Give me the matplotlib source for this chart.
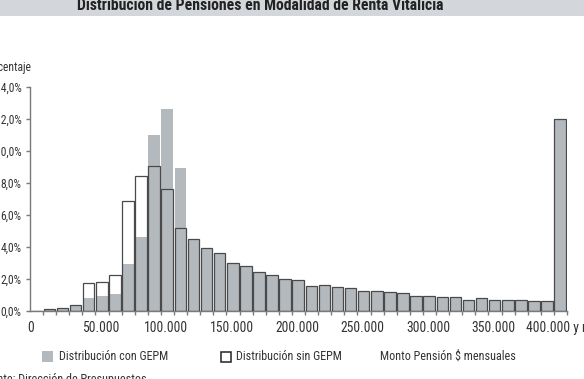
import matplotlib
matplotlib.use("Agg")
import matplotlib.pyplot as plt
import matplotlib.font_manager as fm
from matplotlib.patches import Rectangle
import numpy as np

# ---- data (percent of pensions per 10.000 bin) ----
bin_start = list(range(0, 410000, 10000))  # 0 ... 400.000 y más
con_gepm = [0.0, 0.10, 0.13, 0.35, 0.77, 0.90, 1.05, 2.88, 4.57, 11.00, 12.60, 8.93,
            4.45, 3.89, 3.60, 2.94, 2.78, 2.39, 2.24, 1.97, 1.90, 1.55, 1.59, 1.45,
            1.39, 1.24, 1.22, 1.14, 1.07, 0.91, 0.91, 0.87, 0.82, 0.68, 0.76, 0.68,
            0.68, 0.64, 0.60, 0.60, 11.97]
sin_gepm = [0.0, 0.10, 0.13, 0.35, 1.72, 1.78, 2.20, 6.84, 8.38, 9.05, 7.60, 5.13,
            4.45, 3.89, 3.60, 2.94, 2.78, 2.39, 2.24, 1.97, 1.90, 1.55, 1.59, 1.45,
            1.39, 1.24, 1.22, 1.14, 1.07, 0.91, 0.91, 0.87, 0.82, 0.68, 0.76, 0.68,
            0.68, 0.64, 0.60, 0.60, 11.97]
x_tick_labels = ['0', '50.000', '100.000', '150.000', '200.000', '250.000',
                 '300.000', '350.000', '400.000 y más']
y_ticks = [0, 2, 4, 6, 8, 10, 12, 14]

title = 'Distribución de Pensiones en Modalidad de Renta Vitalicia'
ylabel = 'Porcentaje'
leg1 = 'Distribución con GEPM'
leg2 = 'Distribución sin GEPM'
xlabel = 'Monto Pensión $ mensuales'
source = 'Fuente: Dirección de Presupuestos'

# ---- font choice: prefer a narrow sans ----
names = {f.name for f in fm.fontManager.ttflist}
FONT = None
STRETCH = 'normal'
for cand in ['Liberation Sans Narrow', 'Arial Narrow', 'Roboto Condensed',
             'Open Sans Condensed', 'DejaVu Sans Condensed', 'Noto Sans Condensed']:
    if cand in names:
        FONT = cand
        break
if FONT is None:
    for f in fm.fontManager.ttflist:
        if f.name in ('Roboto', 'Open Sans', 'Noto Sans', 'DejaVu Sans') and \
                str(f.stretch) in ('condensed', 'semi-condensed', '500', '300'):
            FONT = f.name
            STRETCH = 'condensed'
            break
if FONT is None:
    FONT = 'Liberation Sans' if 'Liberation Sans' in names else 'DejaVu Sans'
plt.rcParams['font.family'] = [FONT, 'DejaVu Sans']
plt.rcParams['font.stretch'] = STRETCH

# ---- figure ----
W, H = 584, 379
fig = plt.figure(figsize=(W / 100, H / 100), dpi=100)
fig.patch.set_facecolor('white')
renderer = fig.canvas.get_renderer()


def fx(px):
    return px / W


def fy(py):
    return (H - py) / H


def fit_size(text, target_px, weight='normal'):
    t = fig.text(0, 0, text, fontsize=10, fontweight=weight)
    w = t.get_window_extent(renderer=renderer).width
    t.remove()
    return 10 * target_px / w


FS = fit_size('100.000', 40) * 1.08
FS_Y = fit_size('4,0%', 21)
FS_LEG = fit_size(leg1, 101) * 1.08
FS_TITLE = fit_size(title, 347, weight='bold') * 1.06

ax = fig.add_axes([fx(30), fy(310.5), fx(567) - fx(30), (310.5 - 86.5) / H])

GRAY = '#b4b9be'
EDGE = '#4a4a4a'
AXC = '#7a7a7a'
TXT = '#333333'

idx = np.arange(len(bin_start))
ax.bar(idx + 0.04, con_gepm, width=0.88, align='edge', color=GRAY,
       edgecolor='none', zorder=2)
ax.bar(idx + 0.04, sin_gepm, width=0.88, align='edge', fill=False,
       edgecolor=EDGE, linewidth=0.9, zorder=3)

ax.set_xlim(0, len(bin_start))
ax.set_ylim(0, 14)

for s in ['top', 'right']:
    ax.spines[s].set_visible(False)
for s in ['left', 'bottom']:
    ax.spines[s].set_color(AXC)
    ax.spines[s].set_linewidth(1.0)

ax.set_yticks(y_ticks)
ax.set_yticklabels([f'{v:.1f}'.replace('.', ',') + '%' for v in y_ticks])
ax.tick_params(axis='y', direction='out', length=3, width=1.0, color=AXC,
               pad=3.2, labelsize=FS_Y, labelcolor=TXT)

ax.set_xticks(np.arange(1, len(bin_start) + 1))
ax.set_xticklabels([])
ax.tick_params(axis='x', direction='out', length=3, width=1.0, color=AXC)

# x labels
for i, lab in enumerate(x_tick_labels):
    if i == 0:
        xpos, ha = 0.05, 'center'
    elif i == len(x_tick_labels) - 1:
        xpos, ha = 37.9, 'left'
    else:
        xpos, ha = i * 5 + 0.4, 'center'
    ax.annotate(lab, xy=(xpos, 0), xycoords=('data', 'axes fraction'),
                xytext=(0, -7.5), textcoords='offset points', ha=ha, va='top',
                fontsize=FS, color=TXT, annotation_clip=False)

# title band
fig.patches.append(Rectangle((0, fy(16)), 1, 1 - fy(16), transform=fig.transFigure,
                             facecolor='#d3d6da', edgecolor='none', zorder=0))
fig.text(fx(260.5), fy(10.5), title, ha='center', va='baseline', fontsize=FS_TITLE,
         fontweight='bold', color='#222222')

# y label (cropped on the left)
fig.text(fx(31), fy(67), ylabel, ha='right', va='center', fontsize=FS_Y, color=TXT)

# legend row
fig.patches.append(Rectangle((fx(41.7), fy(362)), fx(11), 11 / H, transform=fig.transFigure,
                             facecolor=GRAY, edgecolor='none'))
fig.text(fx(59), fy(356.5), leg1, ha='left', va='center', fontsize=FS_LEG, color=TXT)
fig.patches.append(Rectangle((fx(220.5), fy(361.5)), fx(10), 10 / H, transform=fig.transFigure,
                             facecolor='white', edgecolor='#222222', linewidth=1.1))
fig.text(fx(236), fy(356.5), leg2, ha='left', va='center', fontsize=FS_LEG, color=TXT)
fig.text(fx(380), fy(356.5), xlabel, ha='left', va='center', fontsize=FS_LEG, color=TXT)

# source (cropped at bottom)
fig.text(fx(147), fy(383), source, ha='right', va='baseline', fontsize=FS_LEG, color=TXT)

fig.savefig('out.png', dpi=100, facecolor='white')
